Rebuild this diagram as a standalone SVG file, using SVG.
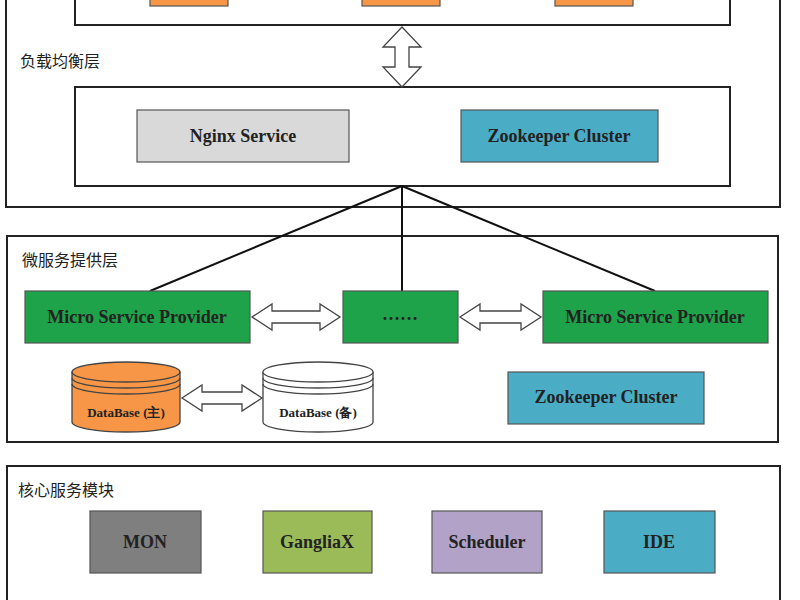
<svg xmlns="http://www.w3.org/2000/svg" width="800" height="600" viewBox="0 0 800 600">
<style>
.frame{fill:#fff;stroke:#222;stroke-width:2}
.box{stroke:#555;stroke-width:1.2}
.t{font-family:"Liberation Serif",serif;font-weight:bold;font-size:18px;text-anchor:middle;fill:#222}
.lbl{font-family:"Noto Sans CJK SC",sans-serif;font-size:16px;fill:#222}
.arr{fill:#fff;stroke:#444;stroke-width:1.3}
.ln{stroke:#111;stroke-width:2;fill:none}
</style>
<rect width="800" height="600" fill="#fff"/>
<g id="lb-layer">
<rect class="frame" x="6" y="-10" width="774" height="217"/>
<rect class="frame" x="75" y="-10" width="655" height="35"/>
<rect class="box" x="150" y="-10" width="78" height="16" fill="#f79646"/>
<rect class="box" x="362" y="-10" width="78" height="16" fill="#f79646"/>
<rect class="box" x="555" y="-10" width="78" height="16" fill="#f79646"/>
<text class="lbl" x="20" y="67">负载均衡层</text>
<rect class="frame" x="75" y="87" width="655" height="99"/>
</g>
<g id="nginx"><rect class="box" x="137" y="110" width="212" height="52" fill="#d9d9d9"/><text class="t" x="243" y="142">Nginx Service</text></g>
<g id="zk1"><rect class="box" x="461" y="110" width="197" height="52" fill="#4bacc6"/><text class="t" x="559" y="142">Zookeeper Cluster</text></g>
<g id="ms-layer">
<rect class="frame" x="7" y="236" width="771" height="206"/>
<text class="lbl" x="22" y="266">微服务提供层</text>
</g>
<g id="connectors">
<polygon class="arr" points="402,27 421,47 409,47 409,67 421,67 402,87 383,67 395,67 395,47 383,47"/>
<line class="ln" x1="402" y1="186" x2="150" y2="291"/>
<line class="ln" x1="402" y1="186" x2="402" y2="291"/>
<line class="ln" x1="402" y1="186" x2="655" y2="291"/>
<polygon class="arr" points="252,317 272,304 272,311 320,311 320,304 340,317 320,330 320,323 272,323 272,330"/>
<polygon class="arr" points="460,317 480,304 480,311 521,311 521,304 541,317 521,330 521,323 480,323 480,330"/>
<polygon class="arr" points="182,398 202,385 202,392 242,392 242,385 262,398 242,411 242,404 202,404 202,411"/>
</g>
<g id="msp1"><rect class="box" x="25" y="291" width="225" height="52" fill="#1fa34a"/><text class="t" x="137" y="323">Micro Service Provider</text></g>
<g id="msp2"><rect class="box" x="343" y="291" width="115" height="52" fill="#1fa34a"/><text class="t" x="400" y="320">……</text></g>
<g id="msp3"><rect class="box" x="543" y="291" width="225" height="52" fill="#1fa34a"/><text class="t" x="655" y="323">Micro Service Provider</text></g>
<g id="db1">
<path d="M72,372 V422 A54,10 0 0 0 180,422 V372" fill="#f79646" stroke="#444" stroke-width="1.3"/>
<ellipse cx="126" cy="372" rx="54" ry="10" fill="#f79646" stroke="#444" stroke-width="1.3"/>
<path d="M72,378 A54,10 0 0 0 180,378 M72,384 A54,10 0 0 0 180,384" fill="none" stroke="#444" stroke-width="1.3"/>
<text class="t" x="126" y="417" style="font-size:13px">DataBase (主)</text>
</g>
<g id="db2">
<path d="M263,372 V422 A55,10 0 0 0 373,422 V372" fill="#fff" stroke="#444" stroke-width="1.3"/>
<ellipse cx="318" cy="372" rx="55" ry="10" fill="#fff" stroke="#444" stroke-width="1.3"/>
<path d="M263,378 A55,10 0 0 0 373,378 M263,384 A55,10 0 0 0 373,384" fill="none" stroke="#444" stroke-width="1.3"/>
<text class="t" x="318" y="417" style="font-size:13px">DataBase (备)</text>
</g>
<g id="zk2"><rect class="box" x="508" y="372" width="196" height="52" fill="#4bacc6"/><text class="t" x="606" y="403">Zookeeper Cluster</text></g>
<g id="core-layer">
<rect class="frame" x="7" y="466" width="773" height="150"/>
<text class="lbl" x="18" y="496">核心服务模块</text>
</g>
<g id="mon"><rect class="box" x="90" y="511" width="111" height="62" fill="#7f7f7f"/><text class="t" x="145" y="548">MON</text></g>
<g id="ganglia"><rect class="box" x="263" y="511" width="109" height="62" fill="#9bbb59"/><text class="t" x="317" y="548">GangliaX</text></g>
<g id="sched"><rect class="box" x="432" y="511" width="110" height="62" fill="#b3a2c7"/><text class="t" x="487" y="548">Scheduler</text></g>
<g id="ide"><rect class="box" x="604" y="511" width="111" height="62" fill="#4bacc6"/><text class="t" x="659" y="548">IDE</text></g>
</svg>
